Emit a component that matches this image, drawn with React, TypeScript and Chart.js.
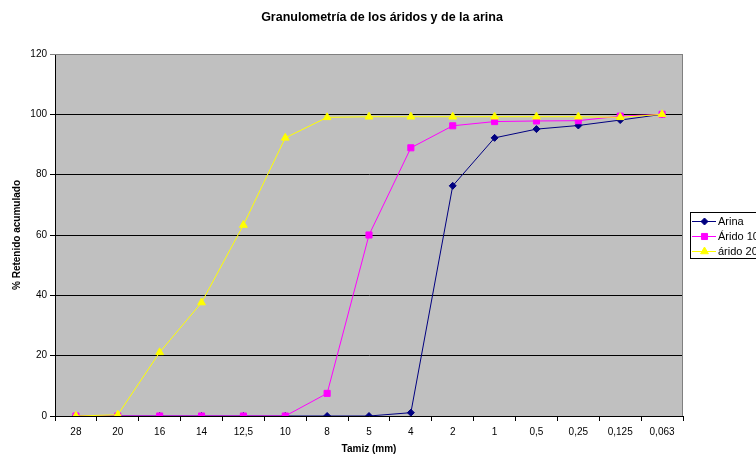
import React, { useEffect, useRef } from 'react';
import { Chart, registerables } from 'chart.js';

Chart.register(...registerables);

const categories = ['28', '20', '16', '14', '12,5', '10', '8', '5', '4', '2', '1', '0,5', '0,25', '0,125', '0,063'];
const arina = [0, 0, 0, 0, 0, 0, 0, 0, 1.1, 76.3, 92.2, 95.1, 96.3, 98.1, 100];
const arido10 = [0, 0, 0, 0, 0, 0, 7.5, 60.0, 88.9, 96.2, 97.6, 97.8, 97.9, 99.4, 100];
const arido20 = [0, 0.4, 21.1, 37.6, 63.3, 92.2, 99.0, 99.2, 99.2, 99.2, 99.2, 99.2, 99.2, 99.0, 100];
const yTickValues = [0, 20, 40, 60, 80, 100, 120];
const seriesNames = ['Arina', 'Árido 10', 'árido 20'];
const seriesColors = ['#000080', '#FF00FF', '#FFFF00'];
const seriesMarkers = ['rectRot', 'rect', 'triangle'];
const titleText = 'Granulometría de los áridos y de la arina';
const xTitle = 'Tamiz (mm)';
const yTitle = '% Retenido acumulado';

const FONT = "'Liberation Sans', Arial, sans-serif";

function drawMarker(ctx: CanvasRenderingContext2D, style: string, x: number, y: number, r: number, color: string) {
  ctx.save();
  ctx.fillStyle = color;
  ctx.strokeStyle = color;
  ctx.beginPath();
  if (style === 'rectRot') {
    ctx.moveTo(x, y - r);
    ctx.lineTo(x + r, y);
    ctx.lineTo(x, y + r);
    ctx.lineTo(x - r, y);
  } else if (style === 'rect') {
    const s = Math.SQRT1_2 * r;
    ctx.rect(x - s, y - s, 2 * s, 2 * s);
  } else {
    const a = (2 * Math.PI) / 3;
    ctx.moveTo(x, y - r);
    ctx.lineTo(x + Math.sin(a) * r, y - Math.cos(a) * r);
    ctx.lineTo(x + Math.sin(2 * a) * r, y - Math.cos(2 * a) * r);
  }
  ctx.closePath();
  ctx.fill();
  ctx.stroke();
  ctx.restore();
}

const bgPlugin = {
  id: 'bgPlugin',
  beforeDraw(chart: any) {
    const { ctx, chartArea: a } = chart;
    ctx.save();
    ctx.fillStyle = '#FFFFFF';
    ctx.fillRect(0, 0, chart.width, chart.height);
    ctx.fillStyle = '#C0C0C0';
    ctx.fillRect(a.left, a.top, a.right - a.left, a.bottom - a.top);
    ctx.restore();
  },
  afterDraw(chart: any) {
    const { ctx, chartArea: a } = chart;
    ctx.save();
    // plot border top/right
    ctx.strokeStyle = '#808080';
    ctx.lineWidth = 1;
    ctx.beginPath();
    ctx.moveTo(a.left, a.top + 0.5);
    ctx.lineTo(a.right - 0.5, a.top + 0.5);
    ctx.lineTo(a.right - 0.5, a.bottom);
    ctx.stroke();
    // title
    ctx.fillStyle = '#000';
    ctx.font = `bold 12.5px ${FONT}`;
    ctx.textAlign = 'center';
    ctx.textBaseline = 'middle';
    ctx.fillText(titleText, 382, 18);
    // legend
    const lx = 690, ly = 212, lw = 90, lh = 46;
    ctx.fillStyle = '#FFFFFF';
    ctx.fillRect(lx, ly, lw, lh);
    ctx.strokeStyle = '#000';
    ctx.strokeRect(lx + 0.5, ly + 0.5, lw, lh);
    ctx.font = `11px ${FONT}`;
    ctx.textAlign = 'left';
    const rows = [221, 236, 251];
    chart.data.datasets.forEach((ds: any, i: number) => {
      const y = rows[i];
      ctx.strokeStyle = ds.borderColor;
      ctx.lineWidth = 1;
      ctx.beginPath();
      ctx.moveTo(692, y + 0.5);
      ctx.lineTo(716, y + 0.5);
      ctx.stroke();
      drawMarker(ctx, ds.pointStyle, 704.5, y + 0.5, ds.pointRadius, ds.borderColor);
      ctx.fillStyle = '#000';
      ctx.fillText(ds.label, 718, y + 1);
    });
    ctx.restore();
  },
};

export default function App() {
  const ref = useRef<HTMLCanvasElement>(null);
  useEffect(() => {
    document.body.style.margin = '0';
    const values = [arina, arido10, arido20];
    const radii = [3.5, 4.3, 4.5];
    const chart = new Chart(ref.current!, {
      type: 'line',
      data: {
        labels: categories,
        datasets: values.map((v, i) => ({
          label: seriesNames[i],
          data: v,
          borderColor: seriesColors[i],
          backgroundColor: seriesColors[i],
          pointBackgroundColor: seriesColors[i],
          pointBorderColor: seriesColors[i],
          pointStyle: seriesMarkers[i] as any,
          pointRadius: radii[i],
          pointBorderWidth: 1,
          borderWidth: 1,
          tension: 0,
          fill: false,
          order: 3 - i,
        })),
      },
      options: {
        responsive: false,
        animation: false,
        layout: { padding: { top: 54, right: 73, left: 0, bottom: 0 } },
        plugins: {
          legend: { display: false },
          title: { display: false },
          tooltip: { enabled: false },
        },
        scales: {
          x: {
            type: 'category',
            offset: true,
            afterFit(scale: any) { scale.height = 38; },
            grid: {
              display: true,
              drawOnChartArea: false,
              drawTicks: true,
              tickLength: 5,
              color: '#000',
              offset: true,
            },
            border: { display: true, color: '#000', width: 1 },
            ticks: {
              color: '#000',
              font: { family: FONT, size: 10 },
              padding: 5,
              maxRotation: 0,
              autoSkip: false,
            },
            title: {
              display: true,
              text: xTitle,
              color: '#000',
              font: { family: FONT, size: 10, weight: 'bold' },
              padding: { top: 0, bottom: -1 },
            },
          },
          y: {
            min: 0,
            max: 120,
            afterFit(scale: any) { scale.width = 55; },
            afterBuildTicks(scale: any) { scale.ticks = yTickValues.map((v) => ({ value: v })); },
            grid: {
              color: (c: any) => (c.tick && c.tick.value === 120 ? '#808080' : '#000'),
              lineWidth: 1,
              tickLength: 5,
              drawTicks: true,
            },
            border: { display: true, color: '#000', width: 1 },
            ticks: {
              color: '#000',
              font: { family: FONT, size: 10 },
              padding: 3,
            },
            title: {
              display: true,
              text: yTitle,
              color: '#000',
              font: { family: FONT, size: 10, weight: 'bold' },
              padding: { top: 11, bottom: 0 },
            },
          },
        },
      },
      plugins: [bgPlugin],
    });
    return () => chart.destroy();
  }, []);
  return (
    <div style={{ width: 756, height: 454 }}>
      <canvas ref={ref} width={756} height={454} style={{ display: 'block' }} />
    </div>
  );
}
